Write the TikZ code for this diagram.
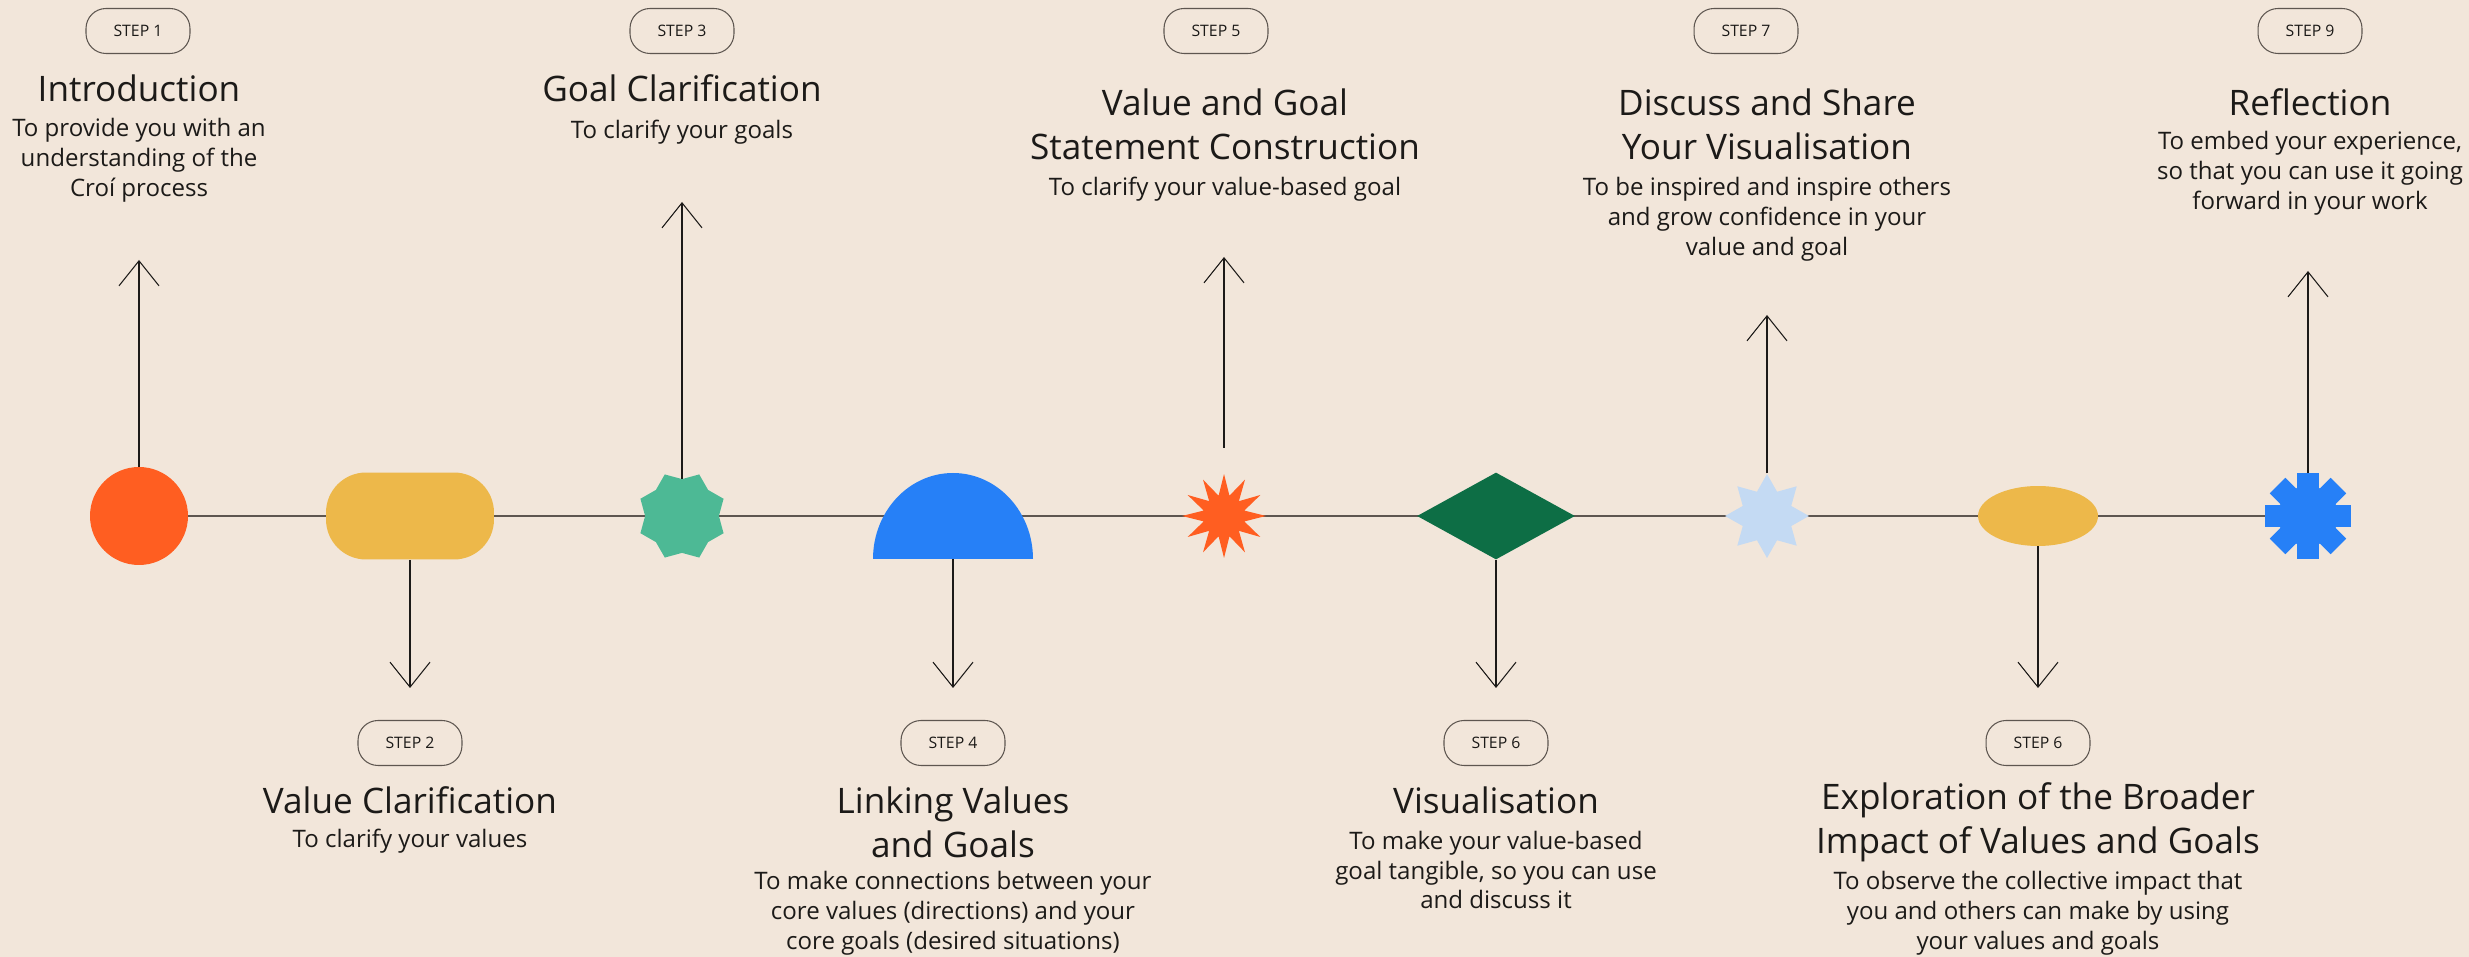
\documentclass[tikz,border=0pt]{standalone}
\usepackage{fontspec}
\setmainfont{Open Sans}
\usetikzlibrary{shapes.geometric,arrows.meta}

\definecolor{paper}{HTML}{F2E6DA}
\definecolor{ink}{HTML}{1C1A18}
\definecolor{rule}{HTML}{5E5650}
\definecolor{tangerine}{HTML}{FF5E21}
\definecolor{mustard}{HTML}{EDB84A}
\definecolor{jade}{HTML}{4DB995}
\definecolor{azure}{HTML}{2680F7}
\definecolor{forest}{HTML}{0D6E45}
\definecolor{sky}{HTML}{C4DAF3}

\begin{document}
\begin{tikzpicture}[x=0.02cm, y=0.02cm,
    pill/.style={draw=rule, line width=0.6pt, rounded corners=0.4cm, minimum width=2.08cm,
      minimum height=0.9cm, inner sep=0pt, text=ink, font=\fontsize{9}{10}\selectfont},
    headline/.style={align=center, text=ink, inner sep=0pt, font=\fontsize{20}{25}\selectfont},
    blurb/.style={align=center, text=ink, inner sep=0pt, font=\fontsize{13.7}{17}\selectfont},
    blob/.style={inner sep=0pt, draw=none},
    track/.style={draw=rule, line width=0.8pt},
    pointer/.style={draw=ink, line width=0.6pt, -{Straight Barb[length=0.5cm, width=0.8cm]}}]
    \fill[paper] (0,0) rectangle (2469,957);
    \useasboundingbox (0,0) rectangle (2469,957);

    \foreach \i/\x in {1/139, 2/410, 3/682, 4/953, 5/1224, 6/1496, 7/1767, 8/2038, 9/2308}
        \coordinate (p\i) at (\x,441);
    \draw[track] (p1) -- (p9);

    \node[blob, circle, fill=tangerine, minimum size=1.96cm] (s1) at (p1) {};
    \node[blob, rectangle, rounded corners=0.8cm, fill=mustard, minimum width=3.36cm, minimum height=1.74cm] (s2) at (p2) {};
    \node[blob, star, star points=8, star point ratio=1.22, shape border rotate=22.5, fill=jade, minimum size=1.8cm] (s3) at (p3) {};
    \fill[azure] (873,398) arc[start angle=180, end angle=0, x radius=80, y radius=86] -- cycle;
    \coordinate (s4) at (953,398);
    \node[blob, star, star points=12, star point ratio=2, fill=tangerine, minimum size=1.68cm] (s5) at (p5) {};
    \node[blob, diamond, fill=forest, minimum width=3.16cm, minimum height=1.74cm] (s6) at (p6) {};
    \node[blob, star, star points=8, star point ratio=1.6, fill=sky, minimum size=1.68cm] (s7) at (p7) {};
    \node[blob, ellipse, fill=mustard, minimum width=2.4cm, minimum height=1.2cm] (s8) at (p8) {};
    \node[blob, circle, fill=azure, minimum size=1.2cm] at (p9) {};
    \foreach \a in {0,45,90,135}
        \node[blob, fill=azure, minimum width=1.72cm, minimum height=0.44cm, rotate=\a] at (p9) {};
    \node[blob, circle, minimum size=1.72cm] (s9) at (p9) {};

    \coordinate (t1) at (139,697);
    \coordinate (t2) at (410,269);
    \coordinate (t3) at (682,755);
    \coordinate (t4) at (953,269);
    \coordinate (t5) at (1224,700);
    \coordinate (t6) at (1496,269);
    \coordinate (t7) at (1767,642);
    \coordinate (t8) at (2038,269);
    \coordinate (t9) at (2308,686);
    \foreach \i in {1,2,3,4,6,7,8,9}
        \draw[pointer] (s\i) -- (t\i);
    \draw[pointer, shorten <=0.5cm] (s5) -- (t5);

    \node[pill] (b1) at (138,926) {STEP 1};
    \node[headline] (h1) at (139,869) {Introduction};
    \node[blurb] (d1) at (139,797) {To provide you with an\\understanding of the\\Croí process};

    \node[pill] (b3) at (682,926) {STEP 3};
    \node[headline] (h3) at (682,869) {Goal Clarification};
    \node[blurb] (d3) at (682,825) {To clarify your goals};

    \node[pill] (b5) at (1216,926) {STEP 5};
    \node[headline] (h5) at (1225,833) {Value and Goal\\Statement Construction};
    \node[blurb] (d5) at (1225,768) {To clarify your value-based goal};

    \node[pill] (b7) at (1746,926) {STEP 7};
    \node[headline] (h7) at (1767,833) {Discuss and Share\\Your Visualisation};
    \node[blurb] (d7) at (1767,738) {To be inspired and inspire others\\and grow confidence in your\\value and goal};

    \node[pill] (b9) at (2310,926) {STEP 9};
    \node[headline] (h9) at (2310,855) {Reflection};
    \node[blurb] (d9) at (2310,784) {To embed your experience,\\so that you can use it going\\forward in your work};

    \node[pill] (b2) at (410,214) {STEP 2};
    \node[headline] (h2) at (410,157) {Value Clarification};
    \node[blurb] (d2) at (410,116) {To clarify your values};

    \node[pill] (b4) at (953,214) {STEP 4};
    \node[headline] (h4) at (953,135) {Linking Values\\and Goals};
    \node[blurb] (d4) at (953,44) {To make connections between your\\core values (directions) and your\\core goals (desired situations)};

    \node[pill] (b6) at (1496,214) {STEP 6};
    \node[headline] (h6) at (1496,157) {Visualisation};
    \node[blurb] (d6) at (1496,87) {To make your value-based\\goal tangible, so you can use\\and discuss it};

    \node[pill] (b8) at (2038,214) {STEP 6};
    \node[headline] (h8) at (2038,135) {Exploration of the Broader\\Impact of Values and Goals};
    \node[blurb] (d8) at (2038,44) {To observe the collective impact that\\you and others can make by using\\your values and goals};
\end{tikzpicture}
\end{document}
